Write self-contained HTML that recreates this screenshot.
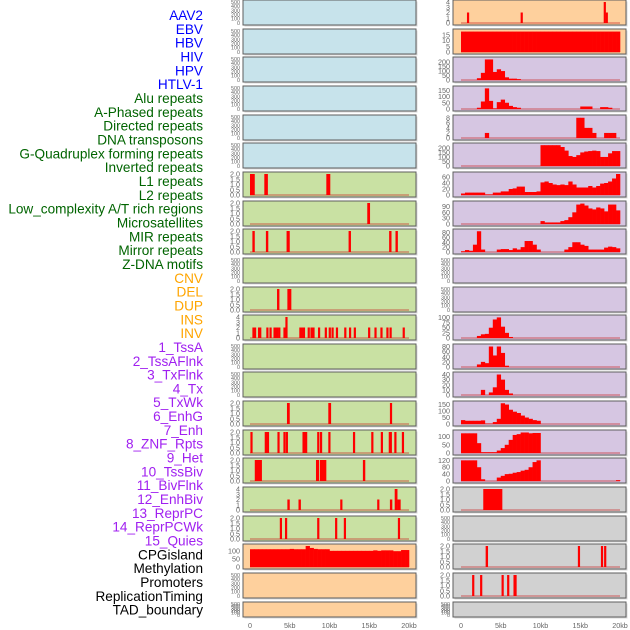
<!DOCTYPE html>
<html><head><meta charset="utf-8">
<style>
html,body{margin:0;padding:0;background:#fff;}
svg{display:block;font-family:"Liberation Sans",sans-serif;}
</style></head>
<body>
<svg id="chart" width="630" height="630" viewBox="0 0 630 630" xmlns="http://www.w3.org/2000/svg"></svg>
<script>
// ---- labels ----
const trackLabels = ["AAV2","EBV","HBV","HIV","HPV","HTLV-1","Alu repeats","A-Phased repeats","Directed repeats","DNA transposons","G-Quadruplex forming repeats","Inverted repeats","L1 repeats","L2 repeats","Low_complexity A/T rich regions","Microsatellites","MIR repeats","Mirror repeats","Z-DNA motifs","CNV","DEL","DUP","INS","INV","1_TssA","2_TssAFlnk","3_TxFlnk","4_Tx","5_TxWk","6_EnhG","7_Enh","8_ZNF_Rpts","9_Het","10_TssBiv","11_BivFlnk","12_EnhBiv","13_ReprPC","14_ReprPCWk","15_Quies","CPGisland","Methylation","Promoters","ReplicationTiming","TAD_boundary"];
const labelGroups = [6,13,5,15,5];
const groupColors = ["#0000ff","#006400","#ffa500","#a020f0","#000000"];
const xTickValues = [0,5,10,15,20];
const xTickLabels = ["0","5kb","10kb","15kb","20kb"];

// ---- y tick sets ----
const ticksEmpty = [0,100,200,300,400,500];
const ticks2 = [0,0.5,1.0,1.5,2.0];
const ticks4 = [0,1,2,3,4];

// ---- spike data: [startKb, endKb, value] ----
const spikes_L7 = [[0,0.6,2],[1.8,2.25,2],[9.6,10.1,2]];
const spikes_L8 = [[14.75,15.1,2]];
const spikes_L9 = [[0.3,0.6,2],[2.0,2.3,2],[4.6,5.0,2],[12.4,12.7,2],[17.5,17.8,2],[18.3,18.6,2]];
const spikes_L11 = [[3.4,3.7,2],[4.7,5.2,2]];
const spikes_L12 = [[0.3,0.45,2],[0.5,0.65,2],[1.0,1.15,2],[1.15,1.3,2],[2.05,2.2,2],[2.45,2.6,2],[2.95,3.1,2],[3.1,3.25,2],[3.3,3.45,2],[3.55,3.7,2],[4.2,4.35,2],[4.45,4.65,4],[6.2,6.35,2],[6.45,6.6,2],[6.65,6.8,2],[7.25,7.4,2],[7.6,7.75,2],[7.85,8.0,2],[8.55,8.7,2],[9.4,9.55,2],[9.9,10.05,2],[10.25,10.4,2],[10.8,10.95,2],[11.85,12.0,2],[12.45,12.6,2],[13.05,13.25,2],[14.85,15.0,2],[15.65,15.8,2],[16.4,16.55,2],[17.15,17.3,2],[17.55,17.7,2],[19.2,19.35,2]];
const spikes_L15 = [[4.65,5.0,2],[9.85,10.2,2],[17.6,17.85,2]];
const spikes_L16 = [[0.05,0.3,2],[1.85,2.4,2],[3.45,3.65,2],[4.2,4.4,2],[4.5,4.7,2],[6.6,7.2,2],[8.45,8.65,2],[8.8,9.05,2],[9.85,10.05,2],[12.95,13.15,2],[15.25,15.45,2],[16.45,16.65,2],[17.45,17.85,2],[18.15,18.35,2],[19.1,19.3,2]];
const spikes_L17 = [[0.6,1.5,2],[8.3,8.7,2],[8.8,9.6,2],[14.2,14.5,2]];
const spikes_L18 = [[4.7,5.0,2],[6.1,6.4,2],[11.35,11.55,2],[16.0,16.25,2],[17.6,17.9,2],[18.2,18.55,4],[18.55,18.95,2]];
const spikes_L19 = [[3.75,3.95,2],[4.4,4.65,2],[8.45,8.65,2],[10.7,10.9,2],[11.8,12.0,2],[18.6,18.8,2]];
const spikes_R1 = [[0.75,0.95,2],[7.5,7.7,2],[17.95,18.2,4],[18.2,18.35,2]];
const spikes_R18 = [[2.8,5.2,2]];
const spikes_R20 = [[3.1,3.4,2],[14.7,14.9,2],[17.6,17.85,2],[18.0,18.25,2]];
const spikes_R21 = [[1.4,1.6,2],[2.4,2.6,2],[5.1,5.3,2],[5.8,6.0,2],[6.6,7.0,2]];

// ---- histogram data: 40 bins of 0.5kb ----
const hist_L20 = [110,110,110,110,110,110,110,110,110,110,112,110,110,110,130,118,112,110,110,110,100,100,100,100,100,100,100,100,100,100,100,103,100,103,103,103,98,98,105,105];
const hist_R2 = [18,18,18,18,18,18,18,18,18,18,18,18,18,18,18,18,18,18,18,18,18,18,18,18,18,18,18,18,18,18,18,18,18,18,18,18,18,18,18,18];
const hist_R3 = [0,0,0,0,20,80,230,230,90,120,100,30,15,15,10,0,0,0,0,0,0,0,0,0,0,0,0,0,0,0,0,0,0,0,0,0,0,0,0,0];
const hist_R4 = [0,0,0,0,10,60,165,65,5,55,75,50,25,15,10,0,0,0,0,0,0,0,0,0,0,0,0,0,0,0,20,20,20,0,0,15,15,10,0,0];
const hist_R5 = [0,0,0,0,0,0,2,0,0,0,0,0,0,0,0,0,0,0,0,0,0,0,0,0,0,0,0,0,0,8,8,4,4,2,0,0,2,2,2,0];
const hist_R6 = [0,0,0,0,0,0,0,0,0,0,0,0,0,0,0,0,0,0,0,0,230,230,230,230,230,210,170,110,100,120,150,160,165,170,165,100,100,140,165,165];
const hist_R7 = [5,8,8,8,8,8,2,2,8,8,12,12,20,22,28,28,10,10,10,12,42,45,40,35,33,35,33,45,35,25,25,25,30,25,30,38,40,45,55,70];
const hist_R8 = [0,0,0,0,0,0,0,0,0,0,0,0,0,0,0,0,0,0,0,0,15,8,8,8,8,15,20,35,60,100,105,95,80,75,85,80,65,100,100,70];
const hist_R9 = [3,8,5,30,85,10,0,0,0,10,12,12,8,15,10,20,45,45,30,10,0,0,0,0,0,0,10,20,40,40,30,25,10,10,10,10,18,22,20,15];
const hist_R12 = [0,0,0,0,10,18,20,50,90,100,55,25,5,0,0,0,0,0,0,0,0,0,0,0,0,0,0,0,0,0,0,0,0,0,0,0,0,0,0,0];
const hist_R13 = [0,0,0,0,10,20,15,80,45,80,55,5,0,0,0,0,0,0,0,0,0,0,0,0,0,0,0,0,0,0,0,0,0,0,0,0,0,0,0,0];
const hist_R14 = [0,0,0,0,0,10,0,5,15,40,30,10,3,0,0,0,0,0,0,0,0,0,0,0,0,0,0,0,0,0,0,0,0,0,0,0,0,0,0,0];
const hist_R15 = [30,25,25,25,25,28,3,3,15,40,160,150,110,95,85,65,50,40,30,25,0,0,0,0,0,0,0,0,0,0,0,0,0,0,0,0,0,0,0,0];
const hist_R16 = [120,120,120,120,60,5,5,5,5,15,30,50,80,110,115,125,125,120,122,122,0,0,0,0,0,0,0,0,0,0,0,0,0,0,0,0,0,0,0,0];
const hist_R17 = [120,120,120,120,80,10,0,0,0,20,30,40,42,48,52,60,65,80,110,120,0,0,0,0,0,0,0,0,0,0,0,0,0,0,0,0,0,0,0,5];

// ---- panel specs ----
const BG = {blue:"#c7e3eb",green:"#c9e1a3",orange:"#fed09d",purple:"#d6c6e2",gray:"#d1d1d1"};
const leftPanels = [
 {bg:"blue",ticks:ticksEmpty,ymax:500},{bg:"blue",ticks:ticksEmpty,ymax:500},{bg:"blue",ticks:ticksEmpty,ymax:500},
 {bg:"blue",ticks:ticksEmpty,ymax:500},{bg:"blue",ticks:ticksEmpty,ymax:500},{bg:"blue",ticks:ticksEmpty,ymax:500},
 {bg:"green",ticks:ticks2,ymax:2,spikes:spikes_L7},{bg:"green",ticks:ticks2,ymax:2,spikes:spikes_L8},
 {bg:"green",ticks:ticks2,ymax:2,spikes:spikes_L9},{bg:"green",ticks:ticksEmpty,ymax:500},
 {bg:"green",ticks:ticks2,ymax:2,spikes:spikes_L11},{bg:"green",ticks:ticks4,ymax:4,spikes:spikes_L12},
 {bg:"green",ticks:ticksEmpty,ymax:500},{bg:"green",ticks:ticksEmpty,ymax:500},
 {bg:"green",ticks:ticks2,ymax:2,spikes:spikes_L15},{bg:"green",ticks:ticks2,ymax:2,spikes:spikes_L16},
 {bg:"green",ticks:ticks2,ymax:2,spikes:spikes_L17},{bg:"green",ticks:ticks4,ymax:4,spikes:spikes_L18},
 {bg:"green",ticks:ticks2,ymax:2,spikes:spikes_L19},
 {bg:"orange",ticks:[0,50,100],ymax:130,hist:hist_L20},{bg:"orange",ticks:ticksEmpty,ymax:500},{bg:"orange",ticks:ticksEmpty,ymax:500}
];
const rightPanels = [
 {bg:"orange",ticks:ticks4,ymax:4,spikes:spikes_R1},{bg:"orange",ticks:[0,5,10,15],ymax:18.5,hist:hist_R2},
 {bg:"purple",ticks:[0,50,100,150,200],ymax:235,hist:hist_R3},{bg:"purple",ticks:[0,50,100,150],ymax:168,hist:hist_R4},
 {bg:"purple",ticks:[0,2,4,6,8],ymax:8.3,hist:hist_R5},{bg:"purple",ticks:[0,50,100,150,200],ymax:232,hist:hist_R6},
 {bg:"purple",ticks:[0,20,40,60],ymax:70,hist:hist_R7},{bg:"purple",ticks:[0,30,60,90],ymax:108,hist:hist_R8},
 {bg:"purple",ticks:[0,20,40,60,80],ymax:86,hist:hist_R9},{bg:"purple",ticks:ticksEmpty,ymax:500},
 {bg:"purple",ticks:ticksEmpty,ymax:500},{bg:"purple",ticks:[0,25,50,75,100],ymax:102,hist:hist_R12},
 {bg:"purple",ticks:[0,20,40,60,80],ymax:82,hist:hist_R13},{bg:"purple",ticks:[0,10,20,30,40],ymax:41,hist:hist_R14},
 {bg:"purple",ticks:[0,50,100,150],ymax:162,hist:hist_R15},{bg:"purple",ticks:[0,50,100],ymax:128,hist:hist_R16},
 {bg:"purple",ticks:[0,40,80,120],ymax:122,hist:hist_R17},{bg:"gray",ticks:ticks2,ymax:2,spikes:spikes_R18},
 {bg:"gray",ticks:ticksEmpty,ymax:500},{bg:"gray",ticks:ticks2,ymax:2,spikes:spikes_R20},
 {bg:"gray",ticks:ticks2,ymax:2,spikes:spikes_R21},{bg:"gray",ticks:ticksEmpty,ymax:500}
];

const NS = "http://www.w3.org/2000/svg";
const svg = document.getElementById("chart");
function mk(tag, attrs, parent){
  const e = document.createElementNS(NS, tag);
  for (const k in attrs) e.setAttribute(k, attrs[k]);
  (parent||svg).appendChild(e);
  return e;
}

// labels
let li = 0;
labelGroups.forEach((n, g) => {
  for (let k = 0; k < n; k++, li++) {
    const t = mk("text", {x:203, y:20 + li*13.83, "text-anchor":"end", "font-size":"13.6", fill:groupColors[g]});
    
    
    t.textContent = trackLabels[li];
  }
});

const rowTops = [];
for (let i = 0; i < 22; i++) rowTops.push(Math.round(i*28.65));

function fmt(v, ticks){
  const dec = ticks.some(t => t % 1 !== 0);
  return dec ? v.toFixed(1) : String(v);
}

function drawPanel(p, row, col){
  const bx = col === 0 ? 243 : 453;
  const x0 = col === 0 ? 250 : 461;
  const bw = 173;
  const top = rowTops[row];
  const h = row === 21 ? 15 : 25;
  const xs = kb => x0 + kb * (159/20);
  const ys = v => top + h - 2 - (v / p.ymax) * (h - 4);
  const g = mk("g", {});
  
  
  mk("rect", {x:bx+1.5, y:top+1.5, width:bw, height:h, fill:"#d8d8d8"}, g);
  const bgR = mk("rect", {x:bx, y:top, width:bw, height:h, fill:BG[p.bg], stroke:"#5e5e5e", "stroke-width":1}, g);
  
  
  const fs = p.ticks.length > 5 ? 5.4 : 7.2;
  p.ticks.forEach(v => {
    const t = mk("text", {x:bx-3, y:ys(v)+fs*0.35, "text-anchor":"end", "font-size":fs, fill:"#666"}, g);
    
    
    t.textContent = fmt(v, p.ticks);
  });
  if (p.spikes || p.hist) {
    const bl = mk("line", {x1:xs(0), x2:xs(20), y1:ys(0), y2:ys(0), stroke:"rgba(200,30,30,0.45)", "stroke-width":1.6}, g);
    
    
  }
  if (p.hist) {
    p.hist.forEach((v, i) => {
      if (v <= 0 || i >= 40) return;
      const vv = Math.min(v, p.ymax);
      const r = mk("rect", {x:xs(i*0.5), y:ys(vv), width:xs((i+1)*0.5)-xs(i*0.5)+0.3, height:ys(0)-ys(vv), fill:"#ff0000"}, g);
      
      
    });
  }
  if (p.spikes) {
    p.spikes.forEach(s => {
      const w = Math.max(xs(s[1]) - xs(s[0]), 2.2);
      const r = mk("rect", {x:xs(s[0]), y:ys(s[2]), width:w, height:ys(0)-ys(s[2]), fill:"#ff0000"}, g);
      
      
    });
  }
}
leftPanels.forEach((p, i) => drawPanel(p, i, 0));
rightPanels.forEach((p, i) => drawPanel(p, i, 1));

// x axis ticks
[250, 461].forEach(x0 => {
  xTickValues.forEach((v, i) => {
    const t = mk("text", {x:x0 + v*(159/20), y:628, "text-anchor":"middle", "font-size":"7.2", fill:"#666"});
    
    
    t.textContent = xTickLabels[i];
  });
});
</script>
</body></html>
